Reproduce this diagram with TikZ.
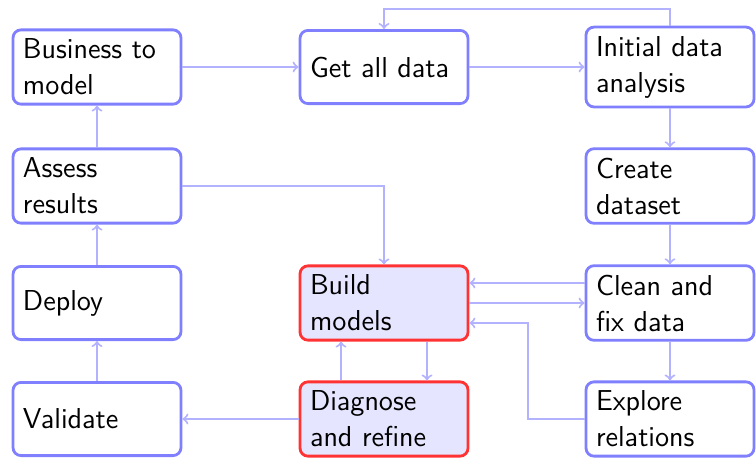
\documentclass[tikz,border=0pt]{standalone}
\usetikzlibrary{calc}
\newcommand\boxfont{\sffamily\Large\hyphenpenalty10000\exhyphenpenalty10000\relax}
\tikzset{
  box/.style={draw=blue!50, line width=1.4pt, rounded corners=4pt, text width=74pt, align=left,
    inner xsep=5pt, inner ysep=4.5pt, minimum height=36.6pt,
    font=\boxfont, fill=white},
  hot/.style={box, draw=red!80, fill=blue!10},
  conn/.style={draw=blue!30, line width=1pt, ->},
}
\begin{document}
\begin{tikzpicture}[x=1pt,y=1pt]
\useasboundingbox (0,0) rectangle (378,-228.5);
\node[box] (bus) at (48.5,-33.5) {Business to model};
\node[box] (get) at (192,-33.5) {Get all data};
\node[box] (ini) at (335,-33.5) {Initial data analysis};
\node[box] (ass) at (48.5,-93) {Assess results};
\node[box] (cre) at (335,-93) {Create dataset};
\node[box] (dep) at (48.5,-151.5) {Deploy};
\node[hot] (bui) at (192,-151.5) {Build models};
\node[box] (cle) at (335,-151.5) {Clean and fix data};
\node[box] (val) at (48.5,-209.5) {Validate};
\node[hot] (dia) at (192,-209.5) {Diagnose and refine};
\node[box] (exp) at (335,-209.5) {Explore relations};
\coordinate (top) at (0,-4.5);
\coordinate (bend) at (264,0);
\coordinate (blow) at ([yshift=-10pt]bui.east);
\coordinate (bhigh) at ([yshift=10pt]cle.west);
\draw[conn] (bus.east) -- (get.west);
\draw[conn] (get.east) -- (get.east -| ini.west);
\draw[conn] (ini.north) -- (ini.north |- top) -| (get.north);
\draw[conn] (ini.south) -- (cre.north);
\draw[conn] (cre.south) -- (cle.north);
\draw[conn] (cle.south) -- (exp.north);
\draw[conn] (bhigh) -- (bhigh -| bui.east);
\draw[conn] (bui.east) -- (cle.west);
\draw[conn] (exp.west) -- (exp.west -| bend) -- (blow -| bend) -- (blow);
\draw[conn] ([xshift=21.5pt]bui.south) -- ([xshift=21.5pt]dia.north);
\draw[conn] ([xshift=-21.5pt]dia.north) -- ([xshift=-21.5pt]bui.south);
\draw[conn] (dia.west) -- (val.east);
\draw[conn] (val.north) -- (dep.south);
\draw[conn] (dep.north) -- (ass.south);
\draw[conn] (ass.north) -- (bus.south);
\draw[conn] (ass.east) -| (bui.north);
\end{tikzpicture}
\end{document}
